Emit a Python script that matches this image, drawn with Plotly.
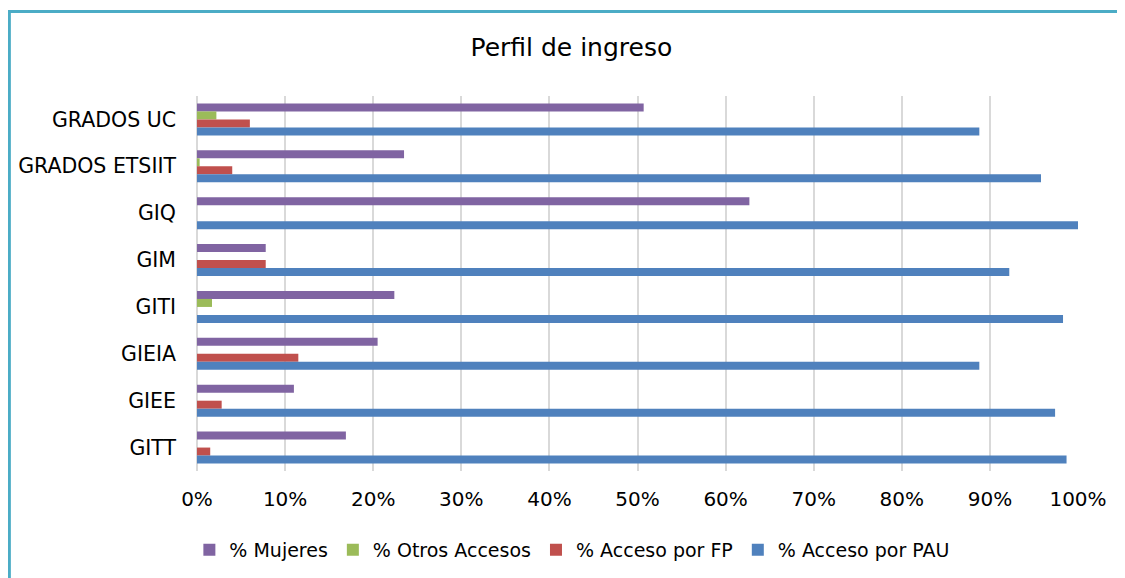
import plotly.graph_objects as go

categories = ["GRADOS UC", "GRADOS ETSIIT", "GIQ", "GIM", "GITI", "GIEIA", "GIEE", "GITT"]
mujeres = [0.507, 0.235, 0.627, 0.078, 0.224, 0.205, 0.110, 0.169]
otros = [0.022, 0.003, 0.0, 0.0, 0.017, 0.0, 0.0, 0.0]
fp = [0.060, 0.040, 0.0, 0.078, 0.0, 0.115, 0.028, 0.015]
pau = [0.888, 0.958, 1.0, 0.922, 0.983, 0.888, 0.974, 0.987]

series = [
    ("% Mujeres", mujeres, "#8064A2"),
    ("% Otros Accesos", otros, "#9BBB59"),
    ("% Acceso por FP", fp, "#C0504D"),
    ("% Acceso por PAU", pau, "#4F81BD"),
]

OFF = 8  # page body margin
W, H = 1125 - OFF, 578 - OFF
# plot area in page pixels
PX0, PX1, PY0, PY1 = 196.5, 1077.8, 96, 471
L, R = PX0 - OFF, (W + OFF) - PX1
T, B = PY0 - OFF, (H + OFF) - PY1
pw, ph = PX1 - PX0, PY1 - PY0

fig = go.Figure()
for name, vals, col in series:
    fig.add_trace(go.Bar(
        y=categories, x=vals, name=name, orientation="h",
        marker=dict(color=col, line=dict(width=0)),
    ))

def px_x(p):
    return (p - PX0) / pw

def px_y(p):
    return 1 - (p - PY0) / ph

border = "#4BACC6"
fig.update_layout(
    width=W, height=H,
    margin=dict(l=L, r=R, t=T, b=B, autoexpand=False),
    paper_bgcolor="white", plot_bgcolor="white",
    barmode="group", bargap=0.317, bargroupgap=0,
    font=dict(family="DejaVu Sans", size=20, color="#000000"),
    title=dict(text="Perfil de ingreso", x=px_x(571), xanchor="center", xref="paper",
               y=1 - (47 - OFF) / H, yanchor="middle",
               font=dict(family="DejaVu Sans", size=25, color="#000000")),
    xaxis=dict(range=[0, 1], dtick=0.1, tick0=0, tickformat=".0%",
               showgrid=True, gridcolor="#D9D9D9", gridwidth=1.5,
               zeroline=True, zerolinecolor="#D9D9D9", zerolinewidth=1.5,
               showline=False, ticks="", ticklabelstandoff=14,
               tickfont=dict(size=20)),
    yaxis=dict(autorange="reversed", showgrid=False, showline=False,
               ticks="", ticklabelstandoff=20, tickfont=dict(size=20.5)),
    legend=dict(orientation="h", x=px_x(572), xanchor="center",
                y=px_y(550), yanchor="middle",
                font=dict(size=19), itemwidth=30, traceorder="normal"),
    shapes=[
        dict(type="line", xref="paper", yref="paper",
             x0=px_x(8.8), x1=px_x(8.8), y0=px_y(11), y1=px_y(H + OFF + 2),
             line=dict(color=border, width=3)),
        dict(type="line", xref="paper", yref="paper",
             x0=px_x(7.3), x1=px_x(W + OFF + 2), y0=px_y(11.5), y1=px_y(11.5),
             line=dict(color=border, width=3)),
    ],
)

fig.write_html("out.html")
